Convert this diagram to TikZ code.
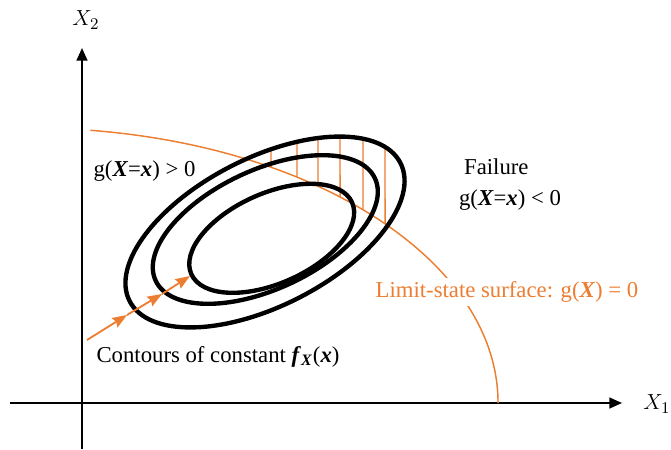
\documentclass[tikz,border=0pt]{standalone}
\usepackage{fontspec}
\setmainfont{Liberation Serif}
\usetikzlibrary{arrows.meta,intersections}
\definecolor{lsorange}{HTML}{ED7D31}
\newcommand{\bi}[1]{\textbf{\textit{#1}}}
\begin{document}
\begin{tikzpicture}[x=0.55pt,y=0.55pt,
  axis/.style={line width=1.1pt,-{Triangle[length=7pt,width=6pt]}},
  contour/.style={line width=2.4pt},
  lsline/.style={lsorange,line width=0.8pt},
  hatch/.style={lsorange,line width=0.8pt},
  flow/.style={lsorange,line width=1pt,-{Stealth[length=8pt,width=6pt,inset=1pt]}},
  lbl/.style={font=\fontsize{12.5}{15}\selectfont,inner sep=1pt},
]
\useasboundingbox (0,0) rectangle (671,449);
% axes
\coordinate (xs) at (10,46); \coordinate (xe) at (622,46);
\coordinate (ys) at (82,0);  \coordinate (ye) at (82,401);
\draw[axis] (xs) -- (xe);
\draw[axis] (ys) -- (ye);
\node[lbl] (x2) at (86,429) {$X_2$};
\node[lbl] (x1) at (657,45) {$X_1$};
% limit-state surface
\draw[lsline,name path=lsc] (90.3,318.7) arc[start angle=82.6,end angle=0,x radius=468,y radius=275];
% outer contour path (for hatching)
\path[name path=outer,rotate around={27:(265,217)}] (265,217) ellipse [x radius=152,y radius=74];
\foreach \hx in {271,297,318,340,363,385} {
  \path[name path=vl] (\hx,440) -- (\hx,100);
  \path[name intersections={of=vl and outer,name=eo,sort by=vl}] (eo-1) coordinate (ht);
  \path[name intersections={of=vl and lsc,name=ls}] (ls-1) coordinate (hb);
  \draw[hatch] (ht) -- (hb);
}
% contours
\draw[contour,rotate around={27:(265,217)}] (265,217) ellipse [x radius=152,y radius=74];
\draw[contour,rotate around={25:(265.3,219.5)}] (265.3,219.5) ellipse [x radius=121,y radius=59.5];
\draw[contour,rotate around={24:(271.7,210.7)}] (271.7,210.7) ellipse [x radius=88,y radius=45];
% flow arrows
\coordinate (a0) at (87,109);
\coordinate (a1) at (127,134);
\coordinate (a2) at (162,155);
\coordinate (a3) at (190,173);
\draw[flow] (a0) -- (a1);
\draw[flow] (a1) -- (a2);
\draw[flow] (a2) -- (a3);
% labels
\node[lbl] (safe) at (144.5,278) {g(\bi{X}=\bi{x}) > 0};
\node[lbl,anchor=west] (fail) at (462,282) {Failure};
\node[lbl] (gneg) at (510,249) {g(\bi{X}=\bi{x}) < 0};
\node[lbl,fill=white,text=lsorange,inner sep=2pt] (lsl) at (507,157) {Limit-state surface: g(\bi{X}) = 0};
\node[lbl] (cont) at (218,92) {Contours of constant \bi{f}\textsubscript{\bi{X}}(\bi{x})};
\end{tikzpicture}
\end{document}
